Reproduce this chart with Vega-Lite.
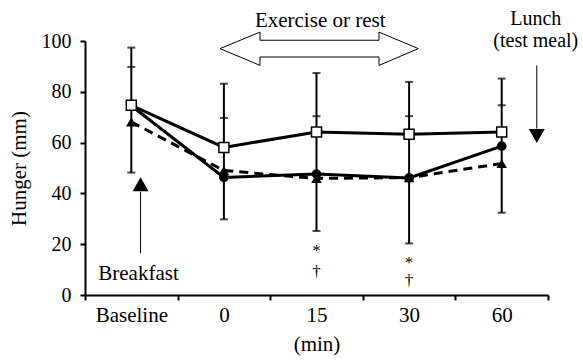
{
  "$schema": "https://vega.github.io/schema/vega-lite/v6.json",
  "width": 463,
  "height": 254,
  "autosize": {"type": "none"},
  "padding": {"left": 85, "top": 41, "right": 35, "bottom": 65},
  "background": "white",
  "config": {
    "view": {"stroke": null},
    "font": "Liberation Serif",
    "axis": {
      "labelFont": "Liberation Serif",
      "titleFont": "Liberation Serif",
      "labelFontSize": 20, "titleFontSize": 21, "titleFontWeight": "normal",
      "labelColor": "black", "titleColor": "black", "domainColor": "black", "tickColor": "black",
      "domainWidth": 2, "tickWidth": 2, "tickSize": 5, "grid": false
    }
  },
  "datasets": {
    "series": [
      {"t": "Baseline", "s": "tr", "v": 68.1},
      {"t": "0", "s": "tr", "v": 49.0},
      {"t": "15", "s": "tr", "v": 45.9},
      {"t": "30", "s": "tr", "v": 46.2},
      {"t": "60", "s": "tr", "v": 51.8},
      {"t": "Baseline", "s": "ci", "v": 74.5},
      {"t": "0", "s": "ci", "v": 46.3},
      {"t": "15", "s": "ci", "v": 47.6},
      {"t": "30", "s": "ci", "v": 46.1},
      {"t": "60", "s": "ci", "v": 58.6},
      {"t": "Baseline", "s": "sq", "v": 74.7},
      {"t": "0", "s": "sq", "v": 58.1},
      {"t": "15", "s": "sq", "v": 64.2},
      {"t": "30", "s": "sq", "v": 63.3},
      {"t": "60", "s": "sq", "v": 64.2}
    ],
    "errors": [
      {"t": "Baseline", "lo": 48.2, "mid": 89.8, "hi": 97.4},
      {"t": "0", "lo": 29.8, "mid": 69.7, "hi": 83.2},
      {"t": "15", "lo": 25.2, "mid": 70.4, "hi": 87.4},
      {"t": "30", "lo": 20.3, "mid": 70.4, "hi": 83.9},
      {"t": "60", "lo": 32.4, "mid": 74.7, "hi": 85.2}
    ],
    "bigarrow": [
      {"i": 0, "u": 1.458, "v": 97.0},
      {"i": 1, "u": 1.890, "v": 103.5},
      {"i": 2, "u": 1.890, "v": 100.3},
      {"i": 3, "u": 3.175, "v": 100.3},
      {"i": 4, "u": 3.175, "v": 103.5},
      {"i": 5, "u": 3.599, "v": 97.0},
      {"i": 6, "u": 3.175, "v": 90.4},
      {"i": 7, "u": 3.175, "v": 93.7},
      {"i": 8, "u": 1.890, "v": 93.7},
      {"i": 9, "u": 1.890, "v": 90.4},
      {"i": 10, "u": 1.458, "v": 97.0}
    ],
    "shafts": [
      {"k": "breakfast", "u": 0.6, "v": 16.4, "v2": 40.6},
      {"k": "lunch", "u": 4.879, "v": 65.5, "v2": 90.4}
    ],
    "heads": [
      {"k": "breakfast", "u": 0.6, "v": 43.6},
      {"k": "lunch", "u": 4.879, "v": 62.6}
    ],
    "labels": [
      {"u": 2.54, "v": 105.5, "txt": "Exercise or rest"},
      {"u": 0.578, "v": 5.9, "txt": "Breakfast"}
    ],
    "lunch": [
      {"u": 4.868, "v": 106.2, "txt": "Lunch"},
      {"u": 4.868, "v": 97.6, "txt": "(test meal)"}
    ],
    "stars": [
      {"u": 2.5, "v": 15.4, "txt": "*"},
      {"u": 3.5, "v": 10.5, "txt": "*"}
    ],
    "daggers": [
      {"u": 2.5, "v": 7.1, "txt": "†"},
      {"u": 3.5, "v": 3.4, "txt": "†"}
    ]
  },
  "resolve": {"scale": {"x": "independent"}},
  "layer": [
    {
      "layer": [
        {
          "data": {"name": "errors"},
          "mark": {"type": "rule", "color": "black", "strokeWidth": 2},
          "encoding": {
            "x": {"field": "t", "type": "nominal", "sort": ["Baseline", "0", "15", "30", "60"],
                  "scale": {"domain": ["Baseline", "0", "15", "30", "60"], "paddingInner": 0, "paddingOuter": 0},
                  "axis": {"title": "(min)", "labelAngle": 0, "tickBand": "extent", "labelPadding": 4, "titlePadding": 8, "labelFontSize": 21}},
            "y": {"field": "lo", "type": "quantitative", "scale": {"domain": [0, 100], "nice": false},
                  "axis": {"title": "Hunger (mm)", "values": [0, 20, 40, 60, 80, 100], "labelPadding": 9, "titlePadding": 12}},
            "y2": {"field": "hi"}
          }
        },
        {
          "data": {"name": "errors"},
          "transform": [{"fold": ["lo", "mid", "hi"], "as": ["which", "cap"]}],
          "mark": {"type": "tick", "color": "black", "thickness": 2, "size": 8},
          "encoding": {
            "x": {"field": "t", "type": "nominal", "sort": ["Baseline", "0", "15", "30", "60"]},
            "y": {"field": "cap", "type": "quantitative"}
          }
        },
        {
          "data": {"name": "series"},
          "transform": [{"filter": "datum.s === 'tr'"}],
          "mark": {"type": "line", "color": "black", "strokeWidth": 3, "strokeDash": [9, 6]},
          "encoding": {
            "x": {"field": "t", "type": "nominal", "sort": ["Baseline", "0", "15", "30", "60"]},
            "y": {"field": "v", "type": "quantitative"}
          }
        },
        {
          "data": {"name": "series"},
          "transform": [{"filter": "datum.s === 'tr'"}],
          "mark": {"type": "point", "shape": "triangle-up", "filled": true, "color": "black", "opacity": 1, "size": 110},
          "encoding": {
            "x": {"field": "t", "type": "nominal", "sort": ["Baseline", "0", "15", "30", "60"]},
            "y": {"field": "v", "type": "quantitative"}
          }
        },
        {
          "data": {"name": "series"},
          "transform": [{"filter": "datum.s === 'ci'"}],
          "mark": {"type": "line", "color": "black", "strokeWidth": 3},
          "encoding": {
            "x": {"field": "t", "type": "nominal", "sort": ["Baseline", "0", "15", "30", "60"]},
            "y": {"field": "v", "type": "quantitative"}
          }
        },
        {
          "data": {"name": "series"},
          "transform": [{"filter": "datum.s === 'ci'"}],
          "mark": {"type": "point", "shape": "circle", "filled": true, "color": "black", "opacity": 1, "size": 95},
          "encoding": {
            "x": {"field": "t", "type": "nominal", "sort": ["Baseline", "0", "15", "30", "60"]},
            "y": {"field": "v", "type": "quantitative"}
          }
        },
        {
          "data": {"name": "series"},
          "transform": [{"filter": "datum.s === 'sq'"}],
          "mark": {"type": "line", "color": "black", "strokeWidth": 3},
          "encoding": {
            "x": {"field": "t", "type": "nominal", "sort": ["Baseline", "0", "15", "30", "60"]},
            "y": {"field": "v", "type": "quantitative"}
          }
        },
        {
          "data": {"name": "series"},
          "transform": [{"filter": "datum.s === 'sq'"}],
          "mark": {"type": "point", "shape": "square", "filled": true, "fill": "white", "stroke": "black", "strokeWidth": 1.5, "opacity": 1, "size": 100},
          "encoding": {
            "x": {"field": "t", "type": "nominal", "sort": ["Baseline", "0", "15", "30", "60"]},
            "y": {"field": "v", "type": "quantitative"}
          }
        }
      ]
    },
    {
      "layer": [
        {
          "data": {"name": "bigarrow"},
          "mark": {"type": "line", "color": "black", "strokeWidth": 1, "clip": false},
          "encoding": {
            "x": {"field": "u", "type": "quantitative", "scale": {"domain": [0, 5], "nice": false, "zero": false}, "axis": null},
            "y": {"field": "v", "type": "quantitative"},
            "order": {"field": "i", "type": "quantitative"}
          }
        },
        {
          "data": {"name": "shafts"},
          "mark": {"type": "rule", "color": "black", "strokeWidth": 1},
          "encoding": {
            "x": {"field": "u", "type": "quantitative", "axis": null},
            "y": {"field": "v", "type": "quantitative"},
            "y2": {"field": "v2"}
          }
        },
        {
          "data": {"name": "heads"},
          "mark": {"type": "point", "filled": true, "color": "black", "opacity": 1, "size": 256},
          "encoding": {
            "x": {"field": "u", "type": "quantitative", "axis": null},
            "y": {"field": "v", "type": "quantitative"},
            "shape": {"field": "k", "type": "nominal", "scale": {"domain": ["breakfast", "lunch"], "range": ["triangle-up", "triangle-down"]}, "legend": null}
          }
        },
        {
          "data": {"name": "labels"},
          "mark": {"type": "text", "font": "Liberation Serif", "fontSize": 21, "color": "black", "align": "center", "baseline": "alphabetic"},
          "encoding": {
            "x": {"field": "u", "type": "quantitative", "axis": null},
            "y": {"field": "v", "type": "quantitative"},
            "text": {"field": "txt"}
          }
        },
        {
          "data": {"name": "lunch"},
          "mark": {"type": "text", "font": "Liberation Serif", "fontSize": 20, "color": "black", "align": "center", "baseline": "alphabetic"},
          "encoding": {
            "x": {"field": "u", "type": "quantitative", "axis": null},
            "y": {"field": "v", "type": "quantitative"},
            "text": {"field": "txt"}
          }
        },
        {
          "data": {"name": "stars"},
          "mark": {"type": "text", "font": "Liberation Serif", "fontSize": 16, "color": "black", "align": "center", "baseline": "alphabetic"},
          "encoding": {
            "x": {"field": "u", "type": "quantitative", "axis": null},
            "y": {"field": "v", "type": "quantitative"},
            "text": {"field": "txt"}
          }
        },
        {
          "data": {"name": "daggers"},
          "mark": {"type": "text", "font": "Liberation Serif", "fontSize": 17, "color": "black", "align": "center", "baseline": "alphabetic"},
          "encoding": {
            "x": {"field": "u", "type": "quantitative", "axis": null},
            "y": {"field": "v", "type": "quantitative"},
            "text": {"field": "txt"}
          }
        }
      ]
    }
  ]
}
